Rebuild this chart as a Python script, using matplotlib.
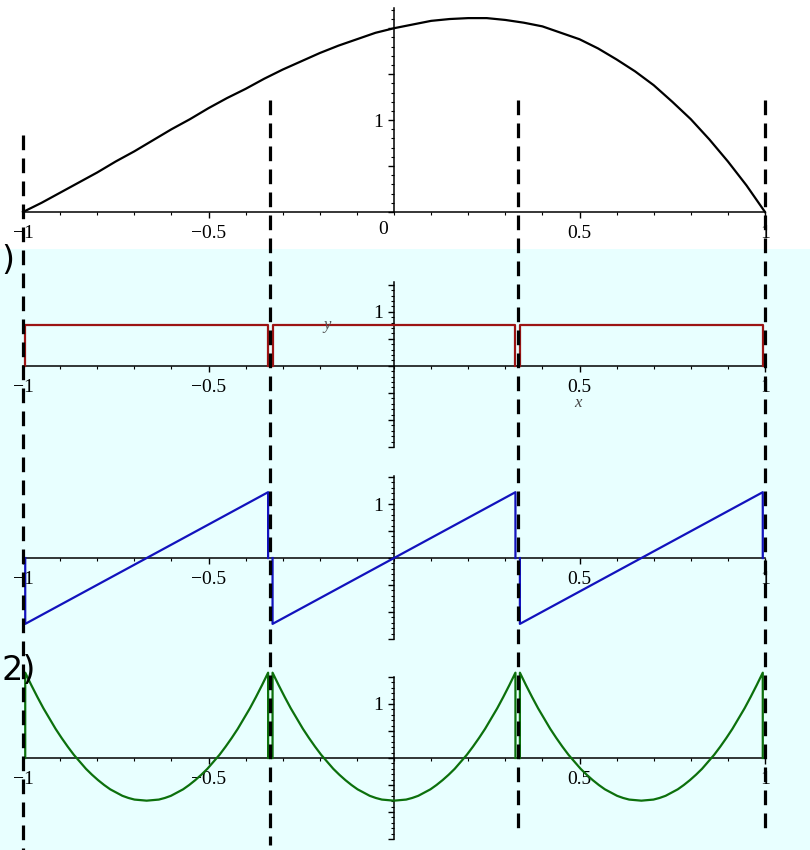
import matplotlib
matplotlib.use("Agg")
import matplotlib.pyplot as plt
import numpy as np
from matplotlib.patches import Rectangle
from matplotlib.ticker import FixedLocator, FuncFormatter, MultipleLocator

# mesh nodes (three elements on [-1, 1])
nodes = [-1.0, -1 / 3, 1 / 3, 1.0]

# function sampled on [-1, 1]
curve_x = np.linspace(-1, 1, 41)
curve_y = [0.00, 0.10, 0.21, 0.32, 0.43, 0.55, 0.66, 0.78, 0.90, 1.01,
           1.13, 1.24, 1.34, 1.45, 1.55, 1.64, 1.73, 1.81, 1.88, 1.95,
           2.00, 2.04, 2.08, 2.10, 2.11, 2.11, 2.09, 2.06, 2.02, 1.95,
           1.88, 1.78, 1.66, 1.53, 1.38, 1.20, 1.01, 0.79, 0.55, 0.29, 0.00]

# element basis shapes on local coordinate xi in [-1, 1]
const_xi = [-1.0, 1.0]
const_vals = [0.75, 0.75]
linear_xi = [-1.0, 1.0]
linear_vals = [-1.22, 1.22]
quad_xi = np.linspace(-1, 1, 41)
quad_vals = [1.58, 1.35, 1.13, 0.92, 0.73, 0.54, 0.37, 0.21, 0.06, -0.07,
             -0.20, -0.31, -0.41, -0.50, -0.58, -0.64, -0.70, -0.74, -0.77, -0.78,
             -0.79, -0.78, -0.77, -0.74, -0.70, -0.64, -0.58, -0.50, -0.41, -0.31,
             -0.20, -0.07, 0.06, 0.21, 0.37, 0.54, 0.73, 0.92, 1.13, 1.35, 1.58]

x_ticks = [-1, -0.5, 0.5, 1]
x_tick_labels = ["\u22121", "\u22120.5", "0.5", "1"]

W, H = 810, 850
X0_PX, X1_PX = 23, 765
SERIF = "Liberation Serif"
RED, BLUE, GREEN = "#9c1414", "#1212bd", "#0c700c"


def px_box(top, bottom):
    return [X0_PX / W, 1 - bottom / H, (X1_PX - X0_PX) / W, (bottom - top) / H]


def style_axes(ax, ylim, ymajor):
    ax.set_xlim(-1, 1)
    ax.set_ylim(*ylim)
    ax.patch.set_visible(False)
    for side in ("top", "right"):
        ax.spines[side].set_visible(False)
    ax.spines["left"].set_position(("data", 0))
    ax.spines["bottom"].set_position(("data", 0))
    for side in ("left", "bottom"):
        ax.spines[side].set_linewidth(1.1)

    ax.xaxis.set_major_locator(FixedLocator(x_ticks))
    ax.xaxis.set_major_formatter(FuncFormatter(
        lambda v, pos: x_tick_labels[x_ticks.index(v)] if v in x_ticks else ""))
    ax.xaxis.set_minor_locator(MultipleLocator(0.1))
    ax.yaxis.set_major_locator(MultipleLocator(ymajor))
    ax.yaxis.set_major_formatter(FuncFormatter(
        lambda v, pos: "1" if abs(v - 1) < 1e-9 else ""))
    ax.yaxis.set_minor_locator(MultipleLocator(0.1))

    ax.tick_params(which="major", direction="out", length=4.5, width=1,
                   labelsize=14, pad=3)
    ax.tick_params(which="minor", direction="out", length=2.5, width=0.8)
    ax.tick_params(axis="x", which="major", pad=5)
    for lab in ax.get_xticklabels() + ax.get_yticklabels():
        lab.set_fontfamily(SERIF)


def plot_elements(ax, xi, vals, color):
    h = (nodes[1] - nodes[0]) / 2
    for a, b in zip(nodes[:-1], nodes[1:]):
        mid = (a + b) / 2
        xs = mid + np.asarray(xi) * (h - 0.006)
        ax.plot(np.r_[xs[0], xs, xs[-1]], np.r_[0, vals, 0], color=color,
                lw=1.6, clip_on=False, zorder=3)


fig = plt.figure(figsize=(W / 100, H / 100), dpi=100)
fig.patch.set_facecolor("white")
fig.add_artist(Rectangle((0, 0), 1, 1 - 249 / H, transform=fig.transFigure,
                         facecolor="#e8ffff", edgecolor="none", zorder=0))

# top: the function itself
ax1 = fig.add_axes(px_box(8, 212))
style_axes(ax1, (0, 2.22), 0.5)
ax1.plot(curve_x, curve_y, color="black", lw=1.6, clip_on=False, zorder=3)
ax1.text(-0.03, -0.1, "0", fontsize=14, fontfamily=SERIF, ha="center", va="top")

# piecewise constant basis
ax2 = fig.add_axes(px_box(282, 447))
style_axes(ax2, (-1.5, 1.55), 0.5)
plot_elements(ax2, const_xi, const_vals, RED)
ax2.text(-0.18, 0.76, "y", fontsize=12, fontfamily=SERIF, style="italic",
         color="#555555", ha="center", va="center")
ax2.text(0.497, -0.69, "x", fontsize=12, fontfamily=SERIF, style="italic",
         color="#444444", ha="center", va="center")

# piecewise linear basis
ax3 = fig.add_axes(px_box(476, 639))
style_axes(ax3, (-1.5, 1.52), 0.5)
plot_elements(ax3, linear_xi, linear_vals, BLUE)

# piecewise quadratic basis
ax4 = fig.add_axes(px_box(677, 839))
style_axes(ax4, (-1.5, 1.5), 0.5)
plot_elements(ax4, quad_xi, quad_vals, GREEN)

# dashed element boundaries across all panels
over = fig.add_axes([0, 0, 1, 1], zorder=10)
over.set_xlim(-1 - 2 * X0_PX / (X1_PX - X0_PX), -1 + 2 * (W - X0_PX) / (X1_PX - X0_PX))
over.set_ylim(H, 0)
over.axis("off")
spans = [(135, 850), (100, 845), (100, 835), (100, 835)]
for xn, (y0, y1) in zip(nodes, spans):
    over.plot([xn, xn], [y0, y1], color="black", lw=2.3, dashes=(4.6, 2.6))

fig.text(1 / W, 1 - 260 / H, ")", fontsize=24, ha="left", va="center")
fig.text(1 / W, 1 - 670 / H, "2)", fontsize=24, ha="left", va="center")

fig.savefig("out.png", dpi=100)
